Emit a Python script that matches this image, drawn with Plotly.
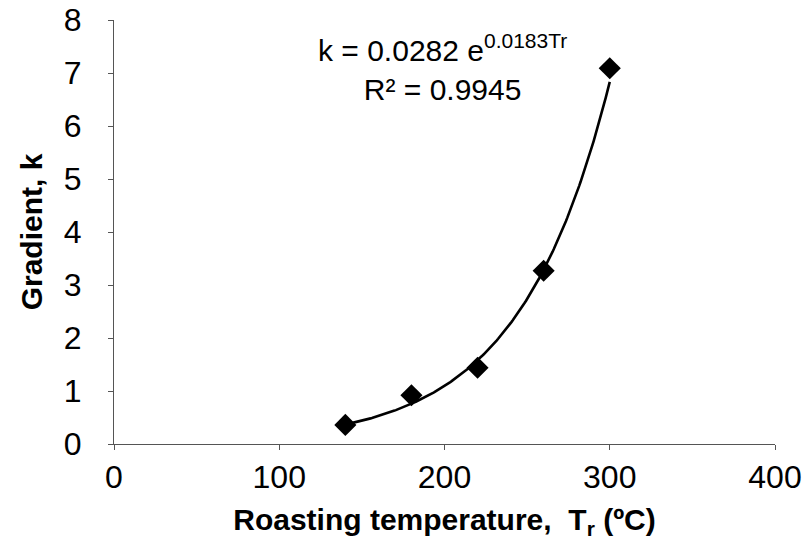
import numpy as np
import plotly.graph_objects as go

# Roasting temperature (°C) and measured gradient k
temperature = [140, 180, 220, 260, 300]
gradient = [0.36, 0.92, 1.44, 3.27, 7.09]

# Exponential trendline coefficients: k = a * exp(b * Tr)
fit_a = 0.0282
fit_b = 0.0183
fit_r2 = 0.9945

x_ticks = [0, 100, 200, 300, 400]
y_ticks = [0, 1, 2, 3, 4, 5, 6, 7, 8]

tr = np.linspace(min(temperature), max(temperature), 200)
k_fit = fit_a * np.exp(fit_b * tr)

font_family = "Liberation Sans, Arial, sans-serif"

fig = go.Figure()
fig.add_trace(go.Scatter(
    x=tr, y=k_fit, mode="lines",
    line=dict(color="black", width=2.6),
    hoverinfo="skip", showlegend=False,
))
fig.add_trace(go.Scatter(
    x=temperature, y=gradient, mode="markers",
    marker=dict(symbol="diamond", size=17, color="black"),
    showlegend=False,
))

fig.add_annotation(
    x=0.497, y=0.888, xref="paper", yref="paper", yanchor="middle",
    text=f"k = {fit_a} e<sup>{fit_b}Tr</sup><br>R² = {fit_r2}",
    showarrow=False, align="center",
    font=dict(family=font_family, size=30, color="black"),
)

axis_common = dict(
    showgrid=False, zeroline=False,
    showline=True, linecolor="#555", linewidth=1,
    ticks="outside", ticklen=5, tickcolor="#555",
    tickfont=dict(family=font_family, size=32, color="black"),
    mirror=False, automargin=False,
)

fig.update_xaxes(
    range=[0, 400], tickvals=x_ticks,
    title=dict(text="<b>Roasting temperature,  T<sub>r</sub> (ºC)</b>",
               font=dict(family=font_family, size=30, color="black"),
               standoff=14),
    **axis_common,
)
fig.update_yaxes(
    range=[0, 8], tickvals=y_ticks,
    title=dict(text="<b>Gradient, k</b>",
               font=dict(family=font_family, size=30, color="black"),
               standoff=12),
    ticklabelstandoff=20,
    **axis_common,
)

fig.update_layout(
    width=804, height=550,
    margin=dict(l=114, r=29, t=20, b=106),
    paper_bgcolor="white", plot_bgcolor="white",
    font=dict(family=font_family, color="black"),
)

fig.write_html("out.html")
